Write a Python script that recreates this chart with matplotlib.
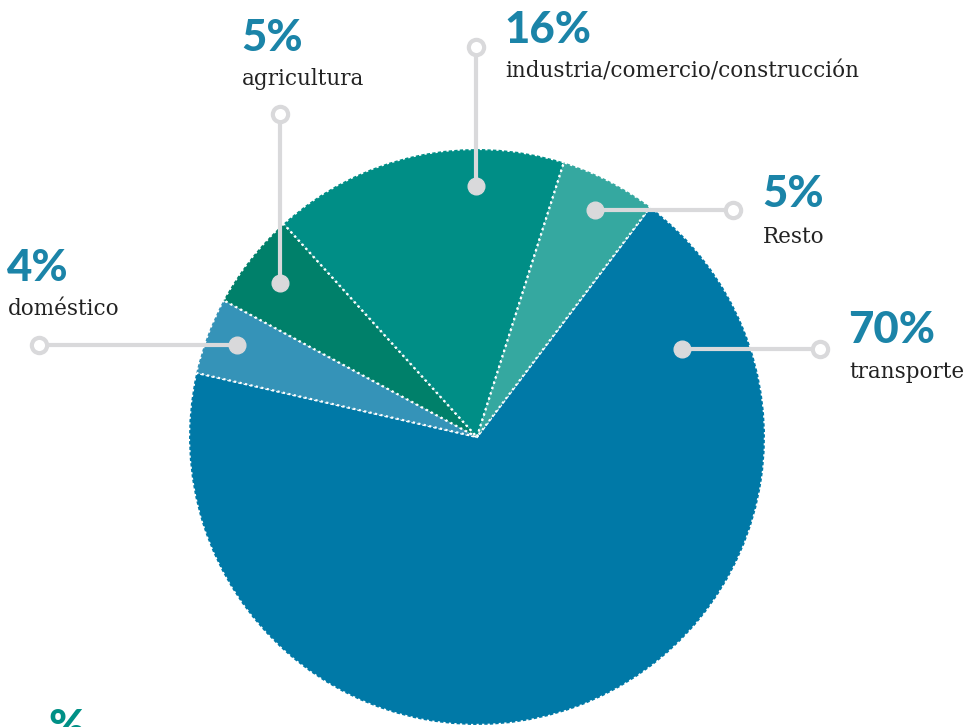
import matplotlib
matplotlib.use("Agg")
import matplotlib.pyplot as plt

# ---- data ----
categories = ["transporte", "doméstico", "agricultura", "industria/comercio/construcción", "Resto"]
values = [68.3, 4.3, 5.4, 16.6, 5.4]          # slice sizes as drawn
pct_labels = ["70%", "4%", "5%", "16%", "5%"]  # printed labels
colors = ["#0079A7", "#3593B8", "#00806A", "#008E86", "#35A8A0"]

W, H = 966, 727
fig = plt.figure(figsize=(W / 100, H / 100), dpi=100)
ax = fig.add_axes([0, 0, 1, 1])

def Y(y):  # pixel row -> data y
    return H - y

cx, cy, r = 477, 437, 288
wedges, _ = ax.pie(values, colors=colors, center=(cx, Y(cy)), radius=r,
                   startangle=53, counterclock=False, frame=True,
                   wedgeprops=dict(edgecolor="white", linewidth=1.6, linestyle=(0, (1, 1.5))))
ax.set_xlim(0, W)
ax.set_ylim(0, H)
ax.set_aspect("equal")
ax.axis("off")

grey = "#D9D9DB"
# leader lines: (inner dot, outer ring) for each category
leaders = {
    "transporte": ((682, 349), (820, 349)),
    "doméstico": ((237, 345), (39, 345)),
    "agricultura": ((280, 283), (280, 114)),
    "industria/comercio/construcción": ((476, 186), (476, 47)),
    "Resto": ((595, 210), (733, 210)),
}
for name, (p_in, p_out) in leaders.items():
    ax.plot([p_in[0], p_out[0]], [Y(p_in[1]), Y(p_out[1])], color=grey, lw=3, solid_capstyle="butt", zorder=3)
    ax.plot(p_in[0], Y(p_in[1]), "o", ms=12, color=grey, mec=grey, zorder=4)
    ax.plot(p_out[0], Y(p_out[1]), "o", ms=11, mfc="white", mec=grey, mew=3, zorder=4)

# text positions: (x, pct baseline, label baseline)
text_pos = {
    "transporte": (848, 343, 378),
    "doméstico": (7, 281, 315),
    "agricultura": (241, 51, 85),
    "industria/comercio/construcción": (504, 43, 78),
    "Resto": (762, 207, 243),
}
pct_color = "#1B84A8"
for name, pct in zip(categories, pct_labels):
    x, yb1, yb2 = text_pos[name]
    ax.text(x, Y(yb1), pct, fontsize=31.5, fontweight="black", family="Lato",
            color=pct_color, va="baseline", ha="left")
    ax.text(x + 1, Y(yb2), name, fontsize=15.5, family="DejaVu Serif",
            color="#222222", va="baseline", ha="left")

# clipped stray label at bottom-left (cut off by the frame in the original too)
ax.text(48, Y(741), "%", fontsize=31.5, fontweight="black", family="Lato",
        color="#009086", va="baseline", ha="left", clip_on=False)

fig.savefig("out.png", dpi=100)
